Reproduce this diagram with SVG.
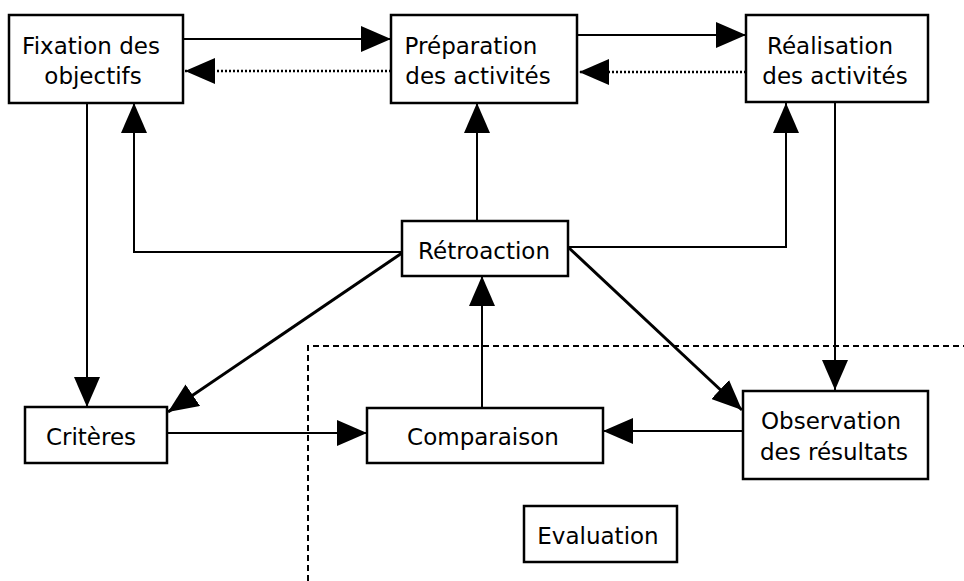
<svg xmlns="http://www.w3.org/2000/svg" width="964" height="581" viewBox="0 0 964 581">
<style>
.box{fill:#fff;stroke:#000;stroke-width:2.5}
.t{font-family:"DejaVu Sans",Verdana,sans-serif;font-size:23px;fill:#000;text-anchor:middle}
.c{fill:none;stroke:#000;stroke-width:2}
.d{fill:none;stroke:#000;stroke-width:3}
.dot{fill:none;stroke:#000;stroke-width:2.5;stroke-dasharray:2 2}
.dash{fill:none;stroke:#000;stroke-width:2;stroke-dasharray:6 4}
</style>
<defs>
<marker id="ah" viewBox="0 0 30 26" refX="30" refY="13" markerWidth="30" markerHeight="26" markerUnits="userSpaceOnUse" orient="auto">
<path d="M0,0 L30,13 L0,26 z" fill="#000"/>
</marker>
</defs>
<rect width="964" height="581" fill="#fff"/>
<g id="frontier">
<path class="dash" d="M308,581 V346 H964"/>
</g>
<g id="connectors">
<path class="c" d="M183,39 H391" marker-end="url(#ah)"/>
<path class="c" d="M577,35 H746" marker-end="url(#ah)"/>
<path class="dot" d="M391,71 H185" marker-end="url(#ah)"/>
<path class="dot" d="M746,72 H579" marker-end="url(#ah)"/>
<path class="c" d="M87,103 V407" marker-end="url(#ah)"/>
<path class="c" d="M402,252 H134 V103" marker-end="url(#ah)"/>
<path class="c" d="M477,221 V103" marker-end="url(#ah)"/>
<path class="c" d="M568,247 H786 V103" marker-end="url(#ah)"/>
<path class="c" d="M835,102 V390" marker-end="url(#ah)"/>
<path class="d" d="M402,253 L168,412" marker-end="url(#ah)"/>
<path class="d" d="M568,247 L742,410" marker-end="url(#ah)"/>
<path class="c" d="M482,408 V276" marker-end="url(#ah)"/>
<path class="c" d="M167,433 H367" marker-end="url(#ah)"/>
<path class="c" d="M743,431 H603" marker-end="url(#ah)"/>
</g>
<g id="fixation">
<rect class="box" x="9" y="15" width="174" height="88"/>
<text class="t" x="91" y="54">Fixation des</text>
<text class="t" x="93" y="84">objectifs</text>
</g>
<g id="preparation">
<rect class="box" x="391" y="15" width="186" height="88"/>
<text class="t" x="471" y="54">Préparation</text>
<text class="t" x="478" y="84">des activités</text>
</g>
<g id="realisation">
<rect class="box" x="746" y="15" width="182" height="87"/>
<text class="t" x="830" y="54">Réalisation</text>
<text class="t" x="835" y="84">des activités</text>
</g>
<g id="retroaction">
<rect class="box" x="402" y="221" width="166" height="55"/>
<text class="t" x="484" y="259">Rétroaction</text>
</g>
<g id="criteres">
<rect class="box" x="25" y="407" width="142" height="56"/>
<text class="t" x="91" y="445">Critères</text>
</g>
<g id="comparaison">
<rect class="box" x="367" y="408" width="236" height="55"/>
<text class="t" x="483" y="445">Comparaison</text>
</g>
<g id="observation">
<rect class="box" x="743" y="391" width="185" height="88"/>
<text class="t" x="831" y="429">Observation</text>
<text class="t" x="834" y="460">des résultats</text>
</g>
<g id="evaluation">
<rect class="box" x="524" y="506" width="153" height="56"/>
<text class="t" x="598" y="544">Evaluation</text>
</g>
</svg>
